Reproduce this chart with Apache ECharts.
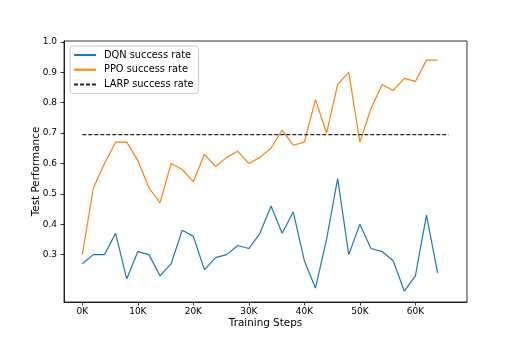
<!DOCTYPE html>
<html>
<head>
<meta charset="utf-8">
<script src="https://cdn.jsdelivr.net/npm/echarts@6/dist/echarts.min.js"></script>
<style>html,body{margin:0;padding:0;background:#fff}#c{width:519px;height:346px}</style>
</head>
<body>
<div id="c"></div>
<script>
var steps = [0,2000,4000,6000,8000,10000,12000,14000,16000,18000,20000,22000,24000,26000,28000,30000,32000,34000,36000,38000,40000,42000,44000,46000,48000,50000,52000,54000,56000,58000,60000,62000,64000];
var dqn = [0.27,0.30,0.30,0.37,0.22,0.31,0.30,0.23,0.27,0.38,0.36,0.25,0.29,0.30,0.33,0.32,0.37,0.46,0.37,0.44,0.28,0.19,0.35,0.55,0.30,0.40,0.32,0.31,0.28,0.18,0.23,0.43,0.24];
var ppo = [0.30,0.52,0.60,0.67,0.67,0.61,0.52,0.47,0.60,0.58,0.54,0.63,0.59,0.62,0.64,0.60,0.62,0.65,0.71,0.66,0.67,0.81,0.70,0.86,0.90,0.67,0.78,0.86,0.84,0.88,0.87,0.94,0.94];
var larpSteps = [0, 66000];
var larpRate = 0.695;
var xTicks = [0,10000,20000,30000,40000,50000,60000];
var yTicks = [0.3,0.4,0.5,0.6,0.7,0.8,0.9,1.0];

function pairs(xs, ys){ return xs.map(function(x,i){ return [x, ys[i]]; }); }
var font = 'DejaVu Sans';
var chart = echarts.init(document.getElementById('c'), null, {renderer:'canvas'});
chart.setOption({
  animation: false,
  backgroundColor: '#fff',
  textStyle: {fontFamily: font},
  grid: {left: 64, right: 52, top: 41, bottom: 44, show: true, borderColor: '#000', borderWidth: 0.8, containLabel: false},
  legend: {
    orient: 'vertical', left: 70, top: 46,
    data: ['DQN success rate','PPO success rate','LARP success rate'],
    itemWidth: 22, itemHeight: 10, itemGap: 4.7,
    padding: [4,5,4,3],
    borderColor: '#ccc', borderWidth: 1, borderRadius: 3,
    backgroundColor: 'rgba(255,255,255,0.8)',
    itemStyle: {opacity: 0},
    textStyle: {fontFamily: font, fontSize: 9.8, color: '#000', padding: [0,0,0,3]}
  },
  xAxis: {
    type: 'value', min: -3300, max: 69300,
    name: 'Training Steps', nameLocation: 'middle', nameGap: 16, nameMoveOverlap: false,
    nameTextStyle: {fontFamily: font, fontSize: 10.4, color: '#000'},
    axisLine: {show: true, onZero: false, lineStyle: {color: '#000', width: 0.8}},
    axisTick: {show: true, length: 3.5, customValues: xTicks, lineStyle: {color: '#000', width: 0.8}},
    axisLabel: {customValues: xTicks, fontFamily: font, fontSize: 9, color: '#000', margin: 5,
      formatter: function(v){ return (v/1000) + 'K'; }},
    splitLine: {show: false}
  },
  yAxis: {
    type: 'value', min: 0.144, max: 1.003,
    name: 'Test Performance', nameLocation: 'middle', nameGap: 23, nameRotate: 90, nameMoveOverlap: false,
    nameTextStyle: {fontFamily: font, fontSize: 10.4, color: '#000'},
    axisLine: {show: true, onZero: false, lineStyle: {color: '#000', width: 0.8}},
    axisTick: {show: true, length: 3.5, customValues: yTicks, lineStyle: {color: '#000', width: 0.8}},
    axisLabel: {customValues: yTicks, fontFamily: font, fontSize: 9, color: '#000', margin: 7,
      formatter: function(v){ return v.toFixed(1); }},
    splitLine: {show: false}
  },
  series: [
    {name: 'DQN success rate', type: 'line', data: pairs(steps, dqn), symbol: 'none', lineStyle: {color: '#1f77b4', width: 1.2}, itemStyle: {color: '#1f77b4'}},
    {name: 'PPO success rate', type: 'line', data: pairs(steps, ppo), symbol: 'none', lineStyle: {color: '#ff7f0e', width: 1.2}, itemStyle: {color: '#ff7f0e'}},
    {name: 'LARP success rate', type: 'line', data: larpSteps.map(function(x){ return [x, larpRate]; }), symbol: 'none', lineStyle: {color: '#222', width: 1.1, type: [4,2]}, itemStyle: {color: '#222'}}
  ]
});
</script>
</body>
</html>
